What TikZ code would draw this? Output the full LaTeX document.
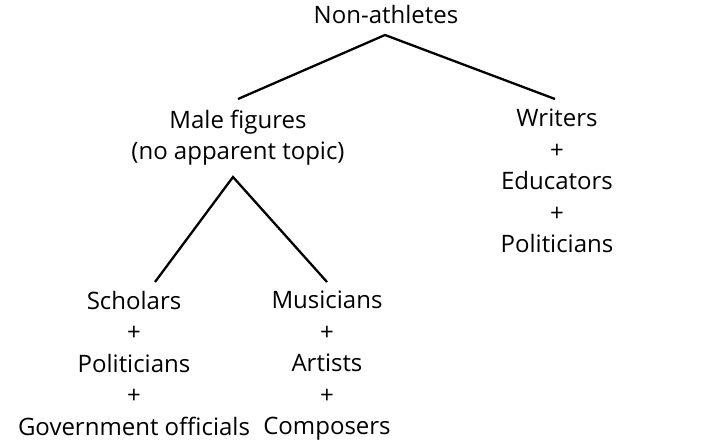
\documentclass[tikz,border=0pt]{standalone}
\usepackage{fontspec}
\setmainfont{Open Sans}
\begin{document}
\begin{tikzpicture}[x=1pt,y=-1pt,
  lbl/.style={align=center,font=\fontsize{24}{31.4}\selectfont,inner sep=0pt,anchor=north},
  edge/.style={line width=2.3pt,line cap=butt}]
\useasboundingbox (0,0) rectangle (702,446);
\node[lbl] (non) at (386,5) {Non-athletes};
\node[lbl] (male) at (238,110) {Male figures\\(no apparent topic)};
\node[lbl] (writ) at (557,109) {Writers\\+\\Educators\\+\\Politicians};
\node[lbl] (schol) at (134,291) {Scholars\\+\\Politicians\\+\\Government officials};
\node[lbl] (mus) at (327,291) {Musicians\\+\\Artists\\+\\Composers};
\coordinate (a1) at (385,35);
\coordinate (l1) at (238,99);
\coordinate (r1) at (555,99);
\coordinate (a2) at (233,177);
\coordinate (l2) at (155,282);
\coordinate (r2) at (327,282);
\draw[edge] (l1) -- (a1) -- (r1);
\draw[edge] (l2) -- (a2) -- (r2);
\end{tikzpicture}
\end{document}
